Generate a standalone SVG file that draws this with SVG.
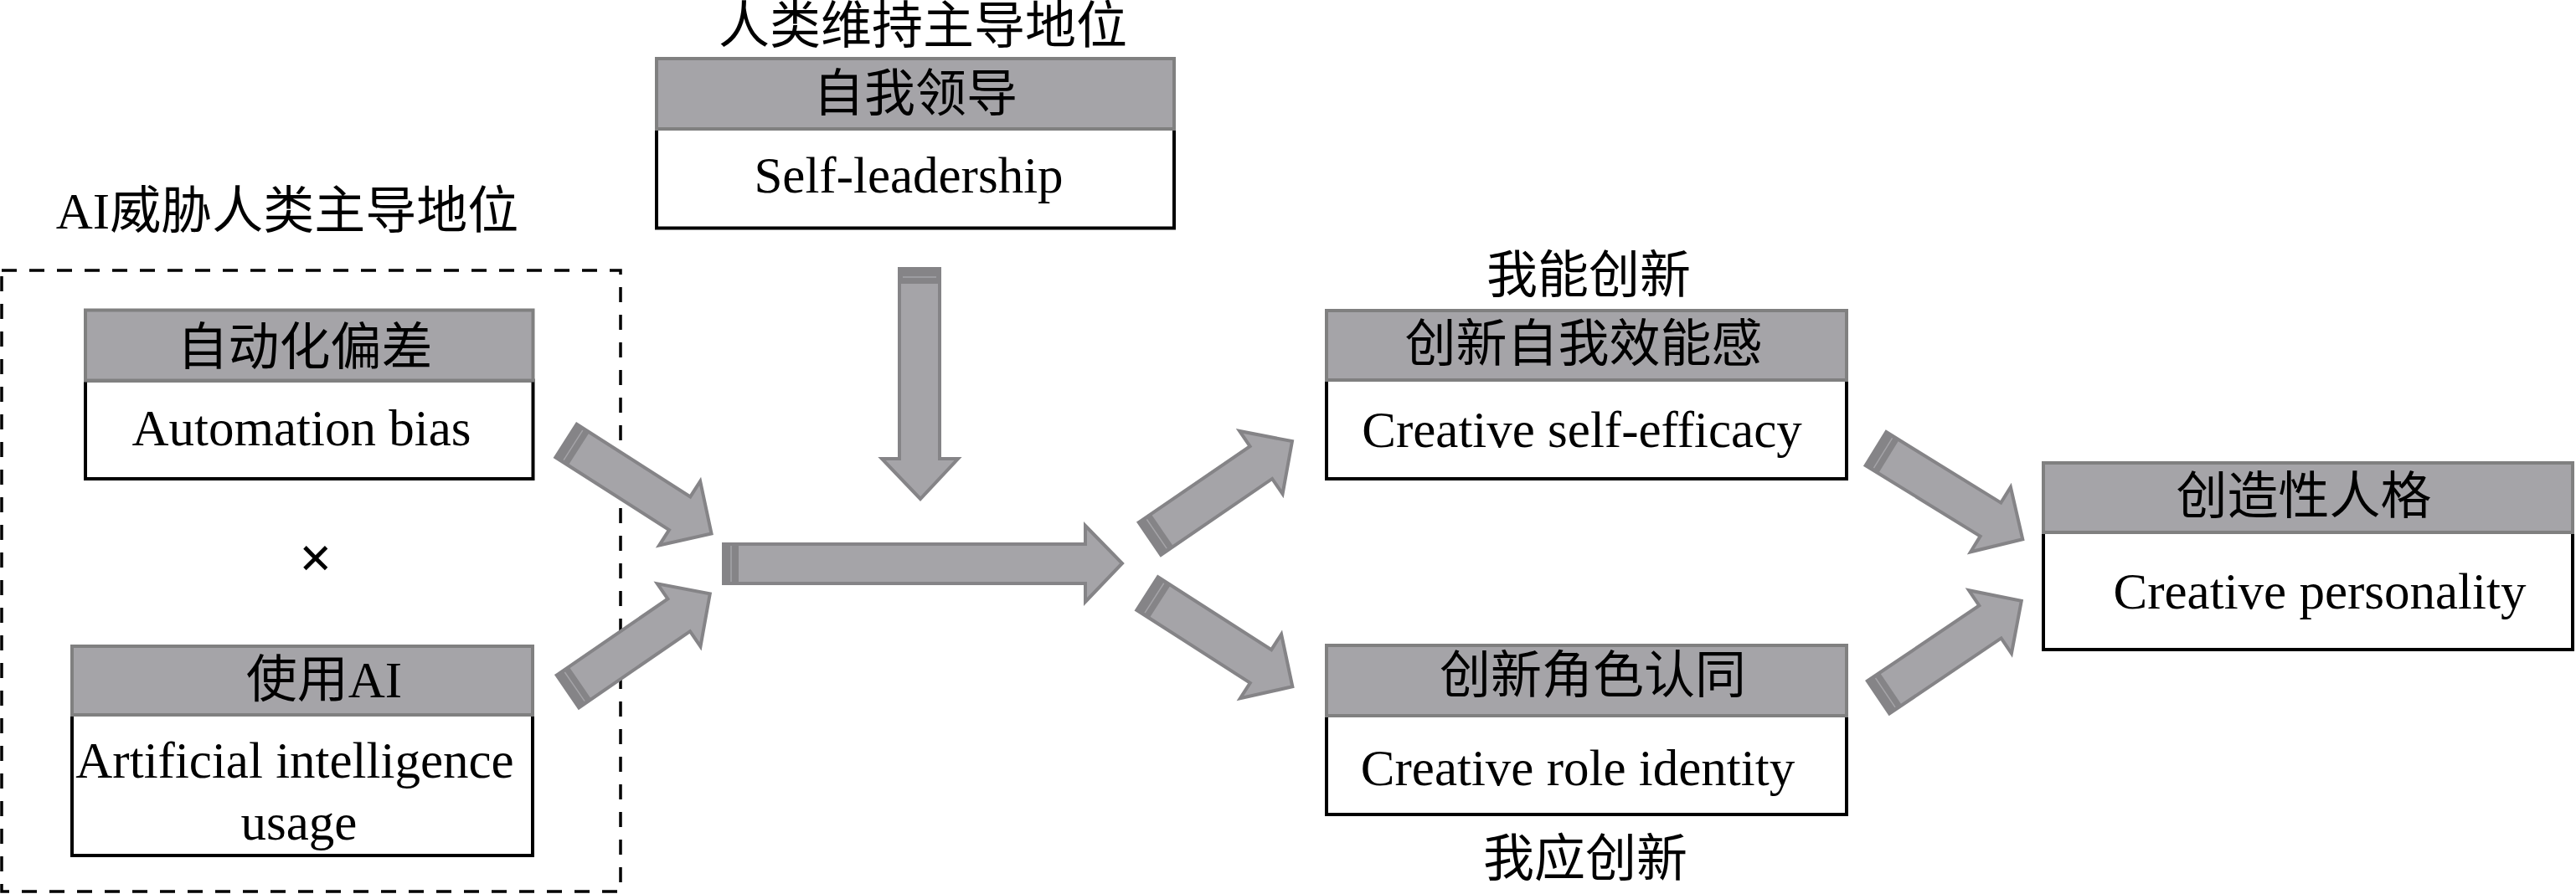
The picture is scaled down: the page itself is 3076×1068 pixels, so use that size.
<svg xmlns="http://www.w3.org/2000/svg" xmlns:xlink="http://www.w3.org/1999/xlink" width="3076" height="1068" viewBox="0 0 3076 1068">
<style>
text{font-family:"Liberation Serif","Noto Sans CJK SC",serif;font-size:61px;fill:#000;text-anchor:middle}
.hdr{fill:#a5a4a8;stroke:#808080;stroke-width:4}
.body{fill:#fff;stroke:#000;stroke-width:4}
.arr{fill:#a5a4a8;stroke:#858487;stroke-width:4;stroke-linejoin:miter}
.band{fill:#858487}
.bline{stroke:#a5a4a8;stroke-width:1.5}
.dash{fill:none;stroke:#000;stroke-width:3.5;stroke-dasharray:18 15}
</style>
<defs>
<g id="darrow">
<path class="arr" d="M0,-23.5 H161 V-45.5 L206,0 L161,45.5 V23.5 H0 Z"/>
<rect class="band" x="0" y="-23.5" width="18" height="47"/>
<line class="bline" x1="10" y1="-21" x2="10" y2="21"/>
</g>
</defs>
<rect width="3076" height="1068" fill="#fff"/>

<g id="group-ai-threat">
<rect class="dash" x="2" y="323" width="739" height="742"/>
<text x="343" y="273">AI威胁人类主导地位</text>
</g>

<g id="node-automation-bias">
<rect class="body" x="102" y="454.5" width="534.5" height="117.5"/>
<rect class="hdr" x="102" y="370.5" width="534.5" height="84"/>
<text x="364" y="436">自动化偏差</text>
<text x="360" y="532">Automation bias</text>
</g>

<g id="times-sign">
<text x="377" y="690" style="font-size:70px;font-weight:bold">×</text>
</g>

<g id="node-ai-usage">
<rect class="body" x="86" y="854" width="550" height="168"/>
<rect class="hdr" x="86" y="772" width="550" height="82"/>
<text x="387" y="833">使用AI</text>
<text x="352" y="929">Artificial intelligence</text>
<text x="357" y="1003">usage</text>
</g>

<g id="node-self-leadership">
<text x="1102" y="52">人类维持主导地位</text>
<rect class="body" x="784" y="154" width="618" height="118.5"/>
<rect class="hdr" x="784" y="70" width="618" height="84"/>
<text x="1093" y="133">自我领导</text>
<text x="1085" y="230">Self-leadership</text>
</g>

<g id="node-creative-self-efficacy">
<text x="1897" y="350">我能创新</text>
<rect class="body" x="1584" y="454" width="621" height="118"/>
<rect class="hdr" x="1584" y="371" width="621" height="83"/>
<text x="1891" y="432">创新自我效能感</text>
<text x="1889" y="534">Creative self-efficacy</text>
</g>

<g id="node-creative-role-identity">
<rect class="body" x="1584" y="855" width="621" height="118"/>
<rect class="hdr" x="1584" y="771" width="621" height="84"/>
<text x="1902" y="828">创新角色认同</text>
<text x="1884" y="938">Creative role identity</text>
<text x="1893" y="1047">我应创新</text>
</g>

<g id="node-creative-personality">
<rect class="body" x="2440" y="636" width="632" height="140"/>
<rect class="hdr" x="2440" y="553" width="632" height="83"/>
<text x="2751" y="614">创造性人格</text>
<text x="2770" y="727">Creative personality</text>
</g>

<g id="connectors">
<use xlink:href="#darrow" transform="translate(676,526.5) rotate(32.6)"/>
<use xlink:href="#darrow" transform="translate(678,826) rotate(-34.5)"/>
<g id="arrow-down">
<path class="arr" d="M1074,321 V548 H1053 L1099,596 L1144,548 H1122 V321 Z"/>
<rect class="band" x="1074" y="321" width="48" height="18"/>
<line class="bline" x1="1078" y1="331" x2="1118" y2="331"/>
</g>
<g id="arrow-main">
<path class="arr" d="M864,650 H1296 V628 L1340,673 L1296,719 V697 H864 Z"/>
<rect class="band" x="864" y="650" width="18" height="47"/>
<line class="bline" x1="873" y1="652" x2="873" y2="695"/>
</g>
<use xlink:href="#darrow" transform="translate(1373,643.5) rotate(-34.4)"/>
<use xlink:href="#darrow" transform="translate(1370,709) rotate(32.7)"/>
<use xlink:href="#darrow" transform="translate(2240,536) rotate(31.7)"/>
<use xlink:href="#darrow" transform="translate(2243,833) rotate(-34)"/>
</g>
</svg>
